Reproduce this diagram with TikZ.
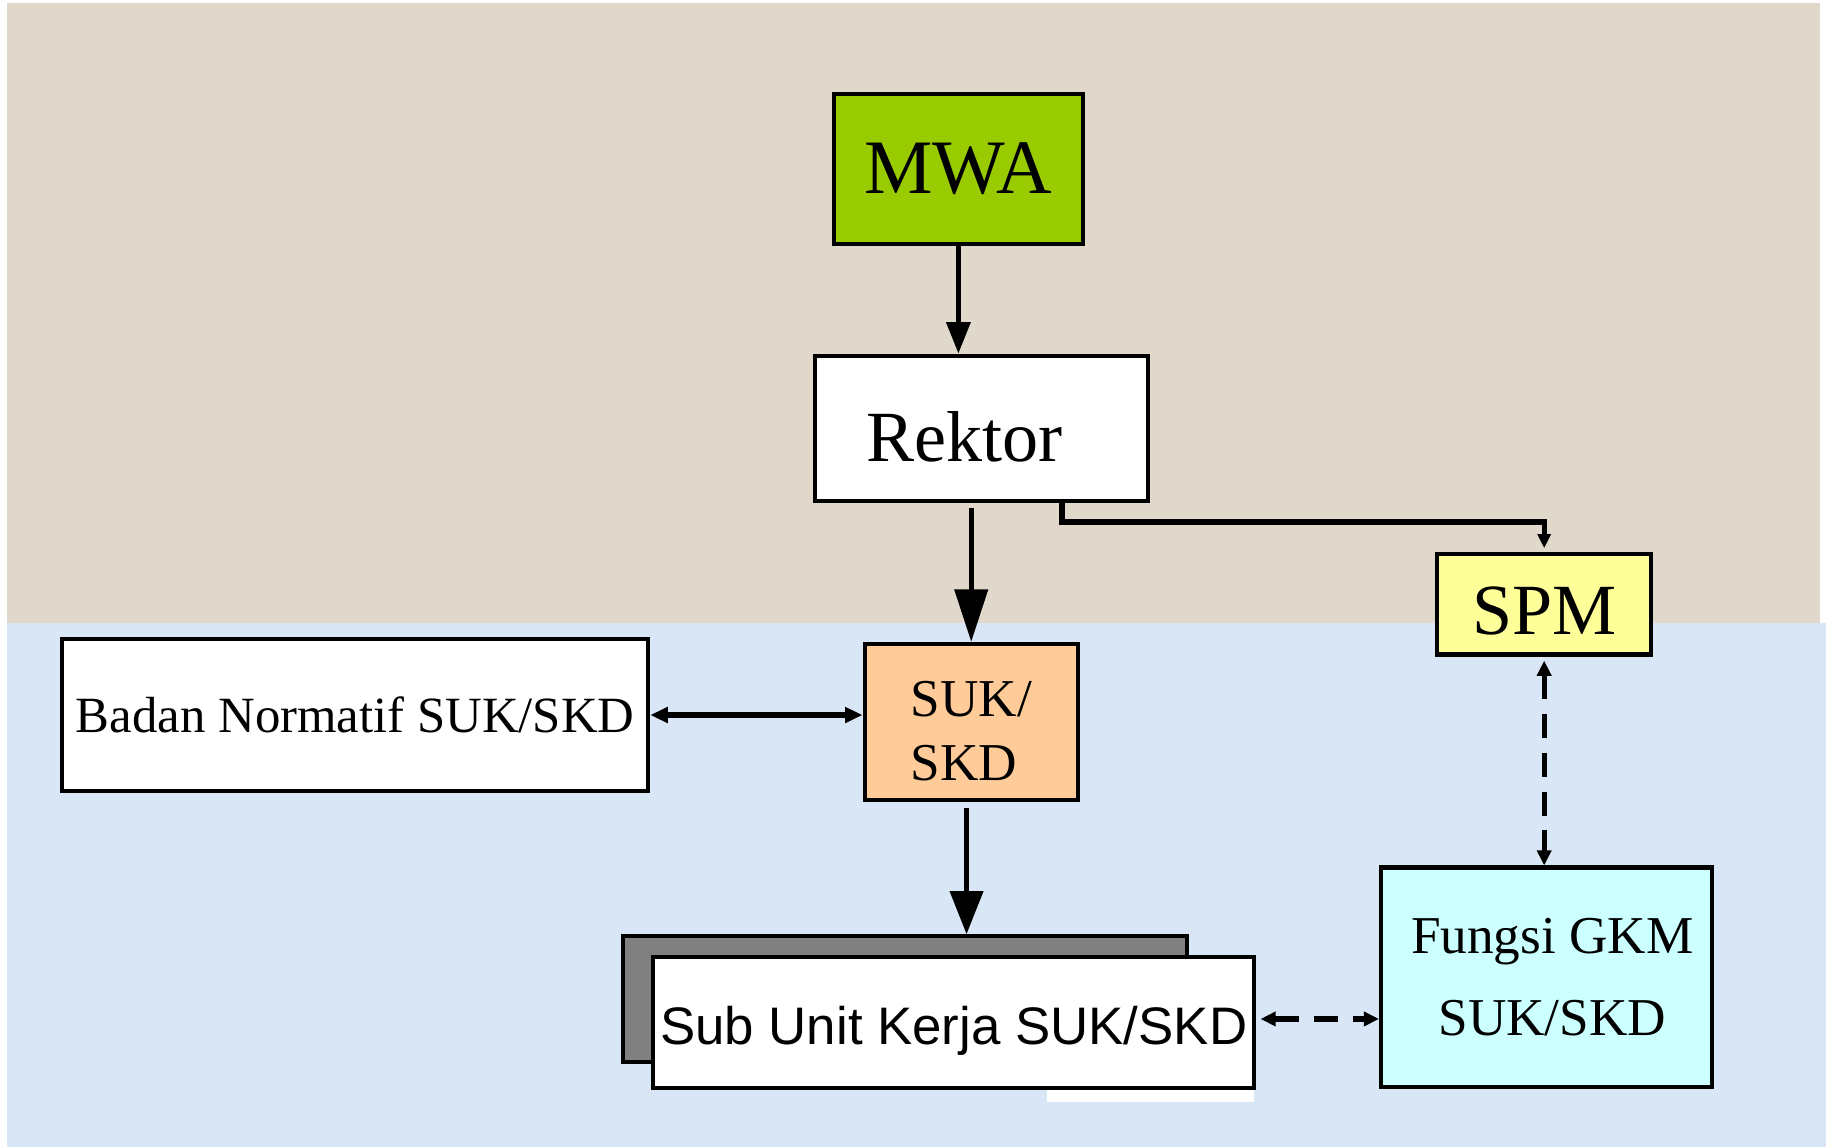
\documentclass[tikz,border=0pt]{standalone}
\usepackage{fontspec}
\setmainfont{Liberation Serif}
\setsansfont{Liberation Sans}
\usetikzlibrary{arrows.meta,calc,positioning}
\definecolor{paper}{HTML}{E0D8CA}
\definecolor{sky}{HTML}{D8E6F5}
\definecolor{mwagreen}{HTML}{99CC00}
\definecolor{spmyellow}{HTML}{FFFF99}
\definecolor{sukorange}{HTML}{FFCC99}
\definecolor{gkmcyan}{HTML}{CCFFFF}

\begin{document}
\begin{tikzpicture}[x=0.01cm,y=-0.01cm,
  box/.style={draw,line width=1pt,inner sep=0pt,align=center},
  big/.style={font=\fontsize{17.6}{20}\selectfont},
  small/.style={font=\fontsize{13}{15.6}\selectfont},
  link/.style={line width=1.3pt},
  dashlink/.style={line width=1.3pt,dash pattern=on 6pt off 3.5pt,
    {Triangle[length=0.13cm,width=0.12cm]}-{Triangle[length=0.13cm,width=0.12cm]}}]
\useasboundingbox (0,0) rectangle (1568,985);
% background
\fill[paper] (6,3) rectangle (1563,535);
\fill[sky] (6,535) rectangle (1568,985);

% nodes
\node[box,font=\fontsize{18.8}{20}\selectfont,fill=mwagreen,minimum width=2.14cm,minimum height=1.29cm] (mwa) at (823,145) {MWA};
\node[box,big,fill=white,text height=0.56cm,text depth=0cm,minimum width=2.86cm,minimum height=1.25cm] (rektor) at (843,368) {Rektor\hspace{0.3cm}};
\node[box,big,fill=spmyellow,text height=0.52cm,text depth=0cm,minimum width=1.84cm,minimum height=0.86cm] (spm) at (1326,519) {SPM};
\node[box,small,align=left,fill=sukorange,text height=1.0cm,text depth=0cm,minimum width=1.83cm,minimum height=1.34cm] (suk) at (834,620) {SUK/\\SKD};
\node[box,fill=white,font=\fontsize{12.4}{15}\selectfont,minimum width=5.03cm,minimum height=1.3cm] (badan) at (305,614) {Badan Normatif SUK/SKD};
\node[box,fill=gray,minimum width=4.84cm,minimum height=1.08cm] (subback) at (777,858) {};
\fill[white] (899,930) rectangle (1077,946);
\node[box,fill=white,font=\sffamily\fontsize{12.9}{15}\selectfont,text height=0.48cm,text depth=0.1cm,minimum width=5.16cm,minimum height=1.12cm] (sub) at (819,878) {Sub Unit Kerja SUK/SKD};
\node[box,fill=gkmcyan,font=\fontsize{13}{19.9}\selectfont,minimum width=2.84cm,minimum height=1.88cm] (gkm) at (1328,839) {\hspace{0.1cm}Fungsi GKM\\\hspace{0.1cm}SUK/SKD};

% connectors
\draw[link,-{Triangle[length=0.27cm,width=0.2cm]}] (mwa.south) -- (mwa.south |- rektor.north);
\draw[link,shorten <=1pt,-{Triangle[length=0.45cm,width=0.28cm]}] (suk.north |- rektor.south) -- (suk.north);
\draw[link,-{Triangle[length=0.12cm,width=0.11cm]}] ($(rektor.south)+(69,0)$) -- ++(0,16) -| ([yshift=1pt]spm.north);
\draw[link,{Triangle[length=0.15cm,width=0.13cm]}-{Triangle[length=0.15cm,width=0.13cm]}] (badan.east) -- (badan.east -| suk.west);
\draw[link,shorten <=1.5pt,-{Triangle[length=0.37cm,width=0.28cm]}] ([xshift=-0.04cm]suk.south) -- ([xshift=-0.04cm]suk.south |- subback.north);
\draw[dashlink] ([yshift=-1pt]spm.south) -- (spm.south |- gkm.north);
\draw[dashlink] ([xshift=1pt,yshift=0.03cm]sub.east) -- ([yshift=0.03cm]sub.east -| gkm.west);
\end{tikzpicture}
\end{document}
